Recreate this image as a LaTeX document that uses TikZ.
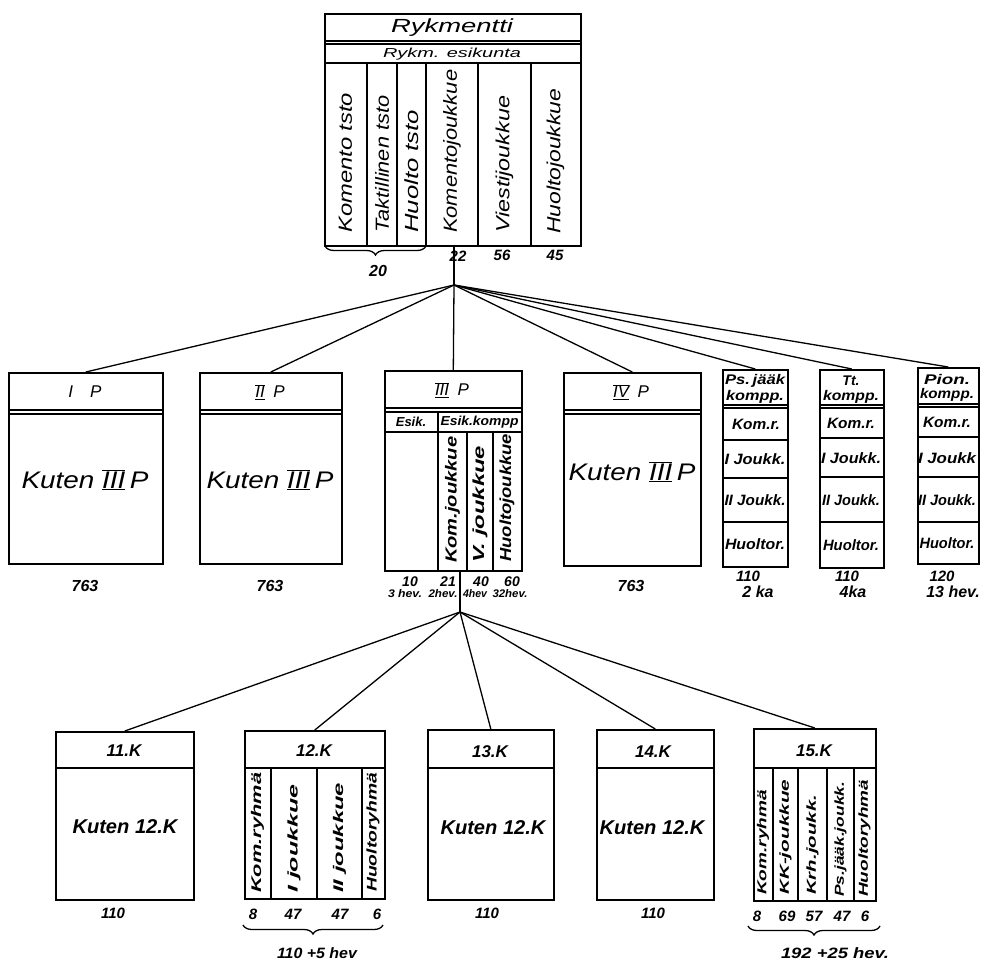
\documentclass[tikz,border=0pt]{standalone}
\usepackage{fontspec}
\setmainfont{Liberation Sans}
\usepackage{graphicx}
\usetikzlibrary{decorations.pathreplacing}
\newcommand\fs[1]{\fontsize{#1}{#1}\selectfont}
\newcommand\tw[2]{\resizebox{#1}{\height}{#2}}
\newcommand\rn[1]{$\underline{\overline{\hbox{#1}}}$}
\begin{document}
\begin{tikzpicture}[x=1pt,y=-1pt,
 box/.style={draw,line width=1.6pt,inner sep=0pt,anchor=north west},
 ln/.style={line width=1.3pt},
 conn/.style={line width=1.3pt},
 t/.style={inner sep=0pt,font=\itshape},
 tb/.style={inner sep=0pt,font=\bfseries\itshape},
 vt/.style={t,rotate=90,anchor=west},
 vtb/.style={tb,rotate=90,anchor=west},
 br/.style={decorate,decoration={brace,mirror,amplitude=9pt},line width=1.3pt}]
\useasboundingbox (0,0) rectangle (992,961);

% ---------- Regiment box ----------
\node[box,minimum width=256pt,minimum height=232pt] (reg) at (324,13) {};
\draw[ln] (324,41)--(580,41) (324,44)--(580,44) (324,63)--(580,63);
\foreach \x in {367,397,426,478,531} \draw[ln] (\x,63)--(\x,245);
\node[t] (regt) at (452,28) {\fs{19}\tw{122pt}{Rykmentti}};
\node[t] (esk) at (452,54) {\fs{13}\tw{138pt}{Rykm. esikunta}};
\node[vt] (c1) at (345.5,233) {\fs{19}\tw{140pt}{Komento tsto}};
\node[vt] (c2) at (382,233) {\fs{19}\tw{137pt}{Taktillinen tsto}};
\node[vt] (c3) at (411.5,233) {\fs{19}\tw{123pt}{Huolto tsto}};
\node[vt] (c4) at (452,233) {\fs{19}\tw{163pt}{Komentojoukkue}};
\node[vt] (c5) at (504.5,233) {\fs{19}\tw{137pt}{Viestijoukkue}};
\node[vt] (c6) at (555.5,234) {\fs{19}\tw{145pt}{Huoltojoukkue}};
\node[tb] (n22) at (458,256) {\fs{15}22};
\node[tb] (n56) at (502,255) {\fs{15}56};
\node[tb] (n45) at (555,255) {\fs{15}45};
\draw[br] (325,246) -- (426,246);
\node[tb] (n20) at (378,271) {\fs{16}20};

\coordinate (h1) at (454,285);
\draw[conn] (reg.south -| h1) -- (h1);

% ---------- Middle row ----------
\node[box,minimum width=154pt,minimum height=191pt] (p1) at (8,372) {};
\draw[ln] (8,410)--(162,410) (8,414)--(162,414);
\node[t] (p1t) at (85,392) {\fs{17}I\quad P};
\node[t] (p1k) at (85,480) {\fs{24}\tw{127pt}{Kuten \rn{III}\,P}};
\node[tb] (p1n) at (85,586) {\fs{16}763};

\node[box,minimum width=142pt,minimum height=191pt] (p2) at (199,372) {};
\draw[ln] (199,410)--(341,410) (199,414)--(341,414);
\node[t] (p2t) at (270,392) {\fs{17}\rn{II}\enspace P};
\node[t] (p2k) at (270,480) {\fs{24}\tw{127pt}{Kuten \rn{III}\,P}};
\node[tb] (p2n) at (270,586) {\fs{16}763};

\node[box,minimum width=137pt,minimum height=200pt] (p3) at (384,370) {};
\draw[ln] (384,408)--(521,408) (384,412)--(521,412) (384,432)--(521,432);
\draw[ln] (438,412)--(438,570) (467,432)--(467,570) (493,432)--(493,570);
\node[t] (p3t) at (452,390) {\fs{17}\rn{III}\enspace P};
\node[tb] (p3a) at (411,422) {\fs{13}Esik.};
\node[tb] (p3b) at (479.5,422) {\fs{13}\tw{78pt}{Esik.kompp}};
\node[vtb] (p3c1) at (452.5,563) {\fs{16}\tw{126pt}{Kom.joukkue}};
\node[vtb] (p3c2) at (480,563) {\fs{16}\tw{117pt}{V. joukkue}};
\node[vtb] (p3c3) at (507,562) {\fs{16}\tw{128pt}{Huoltojoukkue}};
\node[tb] at (410,582) {\fs{14}10};
\node[tb] at (448,582) {\fs{14}21};
\node[tb] at (481,582) {\fs{14}40};
\node[tb] at (512,582) {\fs{14}60};
\node[tb] at (405,594) {\fs{11}\tw{34pt}{3 hev.}};
\node[tb] at (443,594) {\fs{11}\tw{29pt}{2hev.}};
\node[tb] at (475,594) {\fs{11}\tw{24pt}{4hev}};
\node[tb] at (510,594) {\fs{11}\tw{35pt}{32hev.}};

\node[box,minimum width=137pt,minimum height=193pt] (p4) at (563,372) {};
\draw[ln] (563,410)--(700,410) (563,414)--(700,414);
\node[t] (p4t) at (631,392) {\fs{17}\rn{IV}\enspace P};
\node[t] (p4k) at (632,472) {\fs{24}\tw{127pt}{Kuten \rn{III}\,P}};
\node[tb] (p4n) at (631,586) {\fs{16}763};

% small companies
\node[box,minimum width=65pt,minimum height=197pt] (ps) at (722,369) {};
\draw[ln] (722,405)--(787,405) (722,408)--(787,408) (722,440)--(787,440) (722,478)--(787,478) (722,522)--(787,522);
\node[tb] (pst1) at (755,381) {\fs{14}\tw{60pt}{Ps.\,jääk}};
\node[tb] (pst2) at (755,397) {\fs{14}\tw{58pt}{kompp.}};
\node[tb] at (756,424) {\fs{15}\tw{48pt}{Kom.r.}};
\node[tb] at (755,459) {\fs{15}\tw{61pt}{I Joukk.}};
\node[tb] at (755,500) {\fs{15}\tw{61pt}{II Joukk.}};
\node[tb] at (755,544) {\fs{15}\tw{60pt}{Huoltor.}};
\node[tb] at (748,576) {\fs{15}110};
\node[tb] at (758,592) {\fs{16}2 ka};

\node[box,minimum width=64pt,minimum height=198pt] (tt) at (819,369) {};
\draw[ln] (819,405)--(883,405) (819,408)--(883,408) (819,438)--(883,438) (819,477)--(883,477) (819,522)--(883,522);
\node[tb] (ttt1) at (851,381) {\fs{14}Tt.};
\node[tb] (ttt2) at (851,397) {\fs{14}\tw{56pt}{kompp.}};
\node[tb] at (851,423) {\fs{15}\tw{48pt}{Kom.r.}};
\node[tb] at (851,458) {\fs{15}\tw{60pt}{I Joukk.}};
\node[tb] at (851,500) {\fs{15}\tw{58pt}{II Joukk.}};
\node[tb] at (851,545) {\fs{15}\tw{56pt}{Huoltor.}};
\node[tb] at (847,576) {\fs{15}110};
\node[tb] at (853,592) {\fs{16}4ka};

\node[box,minimum width=61pt,minimum height=196pt] (pi) at (917,367) {};
\draw[ln] (917,404)--(978,404) (917,407)--(978,407) (917,437)--(978,437) (917,477)--(978,477) (917,522)--(978,522);
\node[tb] (pit1) at (947,379) {\fs{14}\tw{46pt}{Pion.}};
\node[tb] (pit2) at (947,395) {\fs{14}\tw{54pt}{kompp.}};
\node[tb] at (947,422) {\fs{15}\tw{48pt}{Kom.r.}};
\node[tb] at (947,458) {\fs{15}\tw{58pt}{I Joukk}};
\node[tb] at (947,500) {\fs{15}\tw{58pt}{II Joukk.}};
\node[tb] at (947,543) {\fs{15}\tw{55pt}{Huoltor.}};
\node[tb] at (942,576) {\fs{15}120};
\node[tb] at (953,592) {\fs{16}13 hev.};

\foreach \n in {p1,p2,p3,p4,ps,tt,pi} \draw[conn] (h1) -- (\n.north);

% ---------- Bottom row ----------
\coordinate (h2) at (460,612);
\draw[conn] (p3.south -| h2) -- (h2);

\node[box,minimum width=138pt,minimum height=168pt] (k11) at (55,731) {};
\draw[ln] (55,768)--(193,768);
\node[tb] (k11t) at (124,751) {\fs{17}11.K};
\node[tb] (k11k) at (125,827) {\fs{20}\tw{105pt}{Kuten 12.K}};
\node[tb] at (113,913) {\fs{15}110};

\node[box,minimum width=140pt,minimum height=168pt] (k12) at (244,730) {};
\draw[ln] (244,768)--(384,768) (271,768)--(271,898) (317,768)--(317,898) (362,768)--(362,898);
\node[tb] (k12t) at (314,751) {\fs{17}12.K};
\node[vtb] at (257.5,893) {\fs{14}\tw{120pt}{Kom.ryhmä}};
\node[vtb] at (294,893) {\fs{14}\tw{108pt}{I joukkue}};
\node[vtb] at (339.5,893) {\fs{14}\tw{110pt}{II joukkue}};
\node[vtb] at (373,892) {\fs{14}\tw{119pt}{Huoltoryhmä}};
\node[tb] at (253,914) {\fs{15}8};
\node[tb] at (293,914) {\fs{15}47};
\node[tb] at (340,914) {\fs{15}47};
\node[tb] at (377,914) {\fs{15}6};
\draw[br] (243,925) -- (383,925);
\node[tb] at (317,953) {\fs{15}\tw{80pt}{110 +5 hev}};

\node[box,minimum width=126pt,minimum height=170pt] (k13) at (427,729) {};
\draw[ln] (427,768)--(553,768);
\node[tb] (k13t) at (490,752) {\fs{17}13.K};
\node[tb] (k13k) at (493,828) {\fs{20}\tw{105pt}{Kuten 12.K}};
\node[tb] at (487,913) {\fs{15}110};

\node[box,minimum width=117pt,minimum height=170pt] (k14) at (596,729) {};
\draw[ln] (596,768)--(713,768);
\node[tb] (k14t) at (653,752) {\fs{17}14.K};
\node[tb] (k14k) at (652,828) {\fs{20}\tw{105pt}{Kuten 12.K}};
\node[tb] at (653,913) {\fs{15}110};

\node[box,minimum width=122pt,minimum height=172pt] (k15) at (753,728) {};
\draw[ln] (753,768)--(875,768) (773,768)--(773,900) (798,768)--(798,900) (827,768)--(827,900) (854,768)--(854,900);
\node[tb] (k15t) at (814,751) {\fs{17}15.K};
\node[vtb] at (763,895) {\fs{13}\tw{105pt}{Kom.ryhmä}};
\node[vtb] at (785.5,895) {\fs{13}\tw{115pt}{KK-joukkue}};
\node[vtb] at (812.5,895) {\fs{13}\tw{100pt}{Krh.joukk.}};
\node[vtb] at (840.5,897) {\fs{13}\tw{115pt}{Ps.jääk.joukk.}};
\node[vtb] at (864.5,897) {\fs{13}\tw{117pt}{Huoltoryhmä}};
\node[tb] at (757,916) {\fs{15}8};
\node[tb] at (787,916) {\fs{15}69};
\node[tb] at (814,916) {\fs{15}57};
\node[tb] at (842,916) {\fs{15}47};
\node[tb] at (865,916) {\fs{15}6};
\draw[br] (748,926) -- (880,926);
\node[tb] at (835,953) {\fs{15}\tw{108pt}{192 +25 hev.}};

\foreach \n in {k11,k12,k13,k14,k15} \draw[conn] (h2) -- (\n.north);
\end{tikzpicture}
\end{document}
